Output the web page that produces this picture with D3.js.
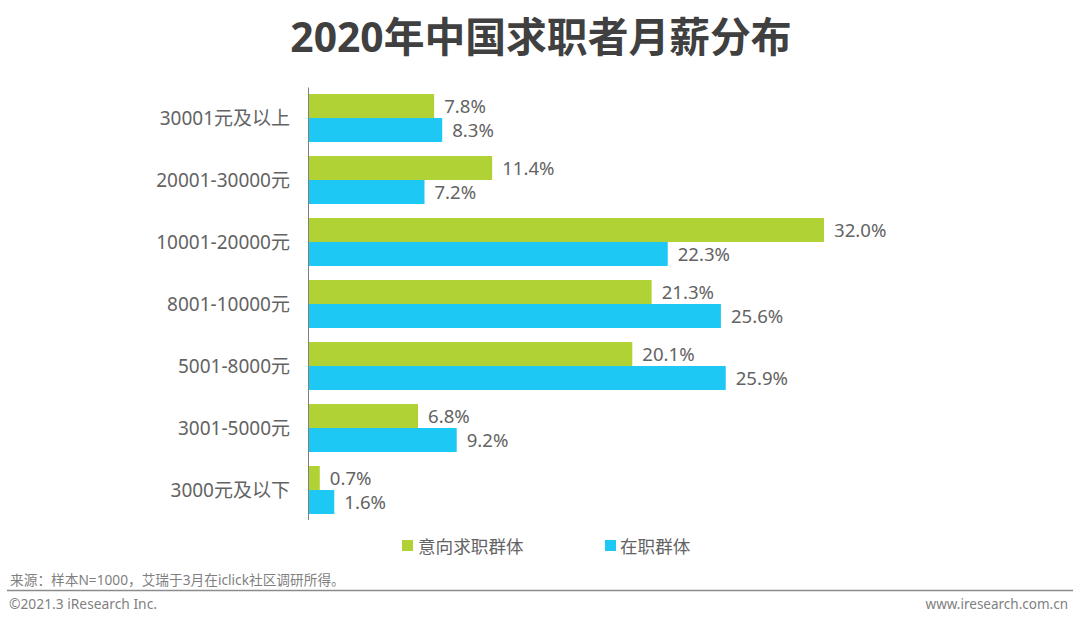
<!DOCTYPE html>
<html><head><meta charset="utf-8"><script src="https://cdn.jsdelivr.net/npm/d3@7"></script>
<style>html,body{margin:0;padding:0;background:#fff}svg{display:block}text{font-family:"Noto Sans","Noto Sans CJK SC",sans-serif}</style></head>
<body><svg id="c" width="1080" height="625"></svg>
<script>
const categories=["30001元及以上","20001-30000元","10001-20000元","8001-10000元","5001-8000元","3001-5000元","3000元及以下"];
const seekers=[7.8,11.4,32.0,21.3,20.1,6.8,0.7];
const employed=[8.3,7.2,22.3,25.6,25.9,9.2,1.6];
const seriesNames=["意向求职群体","在职群体"];
const colors=["#B1D235","#1EC8F4"];
const svg=d3.select("#c");
const x=d3.scaleLinear().domain([0,32]).range([308.5,824]);
const y=d3.scaleBand().domain(categories).range([87,521]).padding(0);
const bh=24;
svg.append("text").attr("x",541).attr("y",52).attr("text-anchor","middle").attr("font-size",40.8).attr("font-weight",700).attr("fill","#404040").text("2020年中国求职者月薪分布");
[seekers,employed].forEach((vals,s)=>{
 const cy=c=>y(c)+y.bandwidth()/2+(s===0?-bh:0);
 svg.append("g").selectAll("rect").data(categories).join("rect").attr("x",x(0)).attr("y",c=>cy(c)).attr("width",(c,i)=>x(vals[i])-x(0)).attr("height",bh).attr("fill",colors[s]);
 svg.append("g").selectAll("text").data(categories).join("text").attr("x",(c,i)=>x(vals[i])+10).attr("y",c=>cy(c)+bh/2+7).attr("font-size",18.6).attr("fill","#636363").text((c,i)=>vals[i].toFixed(1)+"%");
});
svg.append("g").selectAll("text").data(categories).join("text").attr("x",290).attr("y",c=>y(c)+y.bandwidth()/2+6.5).attr("text-anchor","end").attr("font-size",19).attr("fill","#636363").text(c=>c);
svg.append("line").attr("x1",308.5).attr("x2",308.5).attr("y1",87.5).attr("y2",520).attr("stroke","#7f7f7f");
[[402,418],[605,620]].forEach((p,i)=>{
 svg.append("rect").attr("x",p[0]).attr("y",540).attr("width",11).attr("height",11).attr("fill",colors[i]);
 svg.append("text").attr("x",p[1]).attr("y",553).attr("font-size",17.6).attr("fill","#636363").text(seriesNames[i]);
});
svg.append("text").attr("x",10).attr("y",585).attr("font-size",13.7).attr("fill","#7f7f7f").text("来源：样本N=1000，艾瑞于3月在iclick社区调研所得。");
svg.append("line").attr("x1",7).attr("x2",1073).attr("y1",590.5).attr("y2",590.5).attr("stroke","#8c8c8c").attr("stroke-width",1.5);
svg.append("text").attr("x",9).attr("y",609).attr("font-size",13.8).attr("fill","#7f7f7f").text("©2021.3 iResearch Inc.");
svg.append("text").attr("x",1068).attr("y",609).attr("text-anchor","end").attr("font-size",13.5).attr("fill","#7f7f7f").text("www.iresearch.com.cn");
</script></body></html>
